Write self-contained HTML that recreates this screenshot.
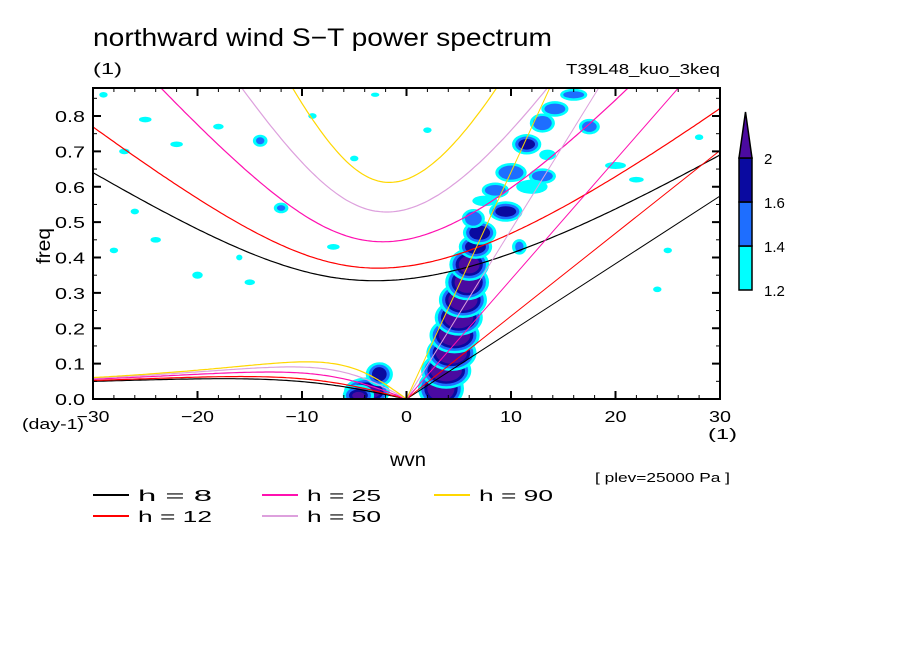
<!DOCTYPE html>
<html><head><meta charset="utf-8"><style>
html,body{margin:0;padding:0;background:#fff;}
svg{display:block;font-family:"Liberation Sans",sans-serif;}
</style></head><body>
<svg id="chart" width="904" height="654" viewBox="0 0 904 654">
<defs><clipPath id="plotclip"><rect x="93" y="88" width="627" height="311"/></clipPath></defs>
<rect x="0" y="0" width="904" height="654" fill="#fff"/>
<text x="93" y="46" font-size="25" textLength="459" lengthAdjust="spacingAndGlyphs" fill="#000">northward wind S−T power spectrum</text>
<text x="93" y="74" font-size="16" textLength="29" lengthAdjust="spacingAndGlyphs">(1)</text>
<text x="566" y="74" font-size="15" textLength="154" lengthAdjust="spacingAndGlyphs">T39L48_kuo_3keq</text>
<g id="blobs" clip-path="url(#plotclip)"></g>
<g id="curves" clip-path="url(#plotclip)"></g>
<g id="axes"></g>
<text x="0" y="0" font-size="19" textLength="36" lengthAdjust="spacingAndGlyphs" transform="translate(50,264) rotate(-90)">freq</text>
<text x="390" y="466" font-size="19" textLength="36" lengthAdjust="spacingAndGlyphs">wvn</text>
<text x="22" y="429" font-size="15" textLength="62" lengthAdjust="spacingAndGlyphs">(day-1)</text>
<text x="708" y="439" font-size="15" textLength="29" lengthAdjust="spacingAndGlyphs">(1)</text>
<text x="595" y="482" font-size="13" textLength="135" lengthAdjust="spacingAndGlyphs">[ plev=25000 Pa ]</text>
<g id="legend"></g>
<g id="colorbar"></g>
</svg>
<script>
// ---- data ----
const depths = [8, 12, 25, 50, 90];
const depthColors = ["#000000", "#ff0000", "#ff10b0", "#dda0dd", "#ffd700"];
const xTicks = [-30, -20, -10, 0, 10, 20, 30];
const yTicks = [0.0, 0.1, 0.2, 0.3, 0.4, 0.5, 0.6, 0.7, 0.8];
const levels = [1.2, 1.4, 1.6, 2];
const levelColors = ["#00ffff", "#1e6eff", "#0a0aa0", "#4b0aa0"];
// spectral blobs: wavenumber, frequency, half-width (wvn), half-height (freq), level index
const blobWvn  = [3.3,3.8,4.3,4.6,5.0,5.4,5.8,6.0,6.6,7.0,6.4,-3.8,-2.6,-4.6,9.5,8.5,10,13,11.5,13,14.2,16,17.5,13.5,10.8,20,22,-25,-18,-27,-22,-14,-12,-26,-28,-20,-7,-24,-16,25,28,-9,-3,24,-29,-15,2,-5,12,7.5];
const blobFreq = [0.03,0.08,0.13,0.18,0.23,0.28,0.33,0.38,0.43,0.47,0.51,0.02,0.07,0.01,0.53,0.59,0.64,0.63,0.72,0.78,0.82,0.86,0.77,0.69,0.43,0.66,0.62,0.79,0.77,0.7,0.72,0.73,0.54,0.53,0.42,0.35,0.43,0.45,0.4,0.42,0.74,0.8,0.86,0.31,0.86,0.33,0.76,0.68,0.6,0.56];
const blobRw   = [1.3,1.5,1.5,1.5,1.4,1.4,1.2,1.0,1.0,1.0,0.8,1.3,0.7,0.6,1.0,1.0,1.2,1.0,0.8,0.9,1.0,1.0,0.7,0.8,0.4,1.0,0.7,0.6,0.5,0.5,0.6,0.4,0.4,0.4,0.4,0.5,0.6,0.5,0.3,0.4,0.4,0.4,0.4,0.4,0.4,0.5,0.4,0.4,1.5,1.2];
const blobRh   = [0.035,0.03,0.03,0.03,0.03,0.03,0.03,0.025,0.02,0.02,0.02,0.02,0.02,0.01,0.015,0.015,0.02,0.015,0.015,0.02,0.015,0.01,0.015,0.015,0.015,0.01,0.008,0.008,0.008,0.008,0.008,0.01,0.008,0.008,0.008,0.01,0.008,0.008,0.008,0.008,0.008,0.008,0.006,0.008,0.008,0.008,0.008,0.008,0.02,0.015];
const blobLevel= [4,4,4,4,4,4,4,4,3,3,2,4,3,4,3,2,2,2,3,2,2,2,2,1,2,1,1,1,1,1,1,2,2,1,1,1,1,1,1,1,1,1,1,1,1,1,1,1,1,1];

// ---- scales ----
const X0=93, X1=720, Y0=399, YTOP=88;
const xMin=-30, xMax=30, yPer=353.75;
const sx = v => X0 + (v - xMin) / (xMax - xMin) * (X1 - X0);
const sy = v => Y0 - v * yPer;
const NS = "http://www.w3.org/2000/svg";
function mk(tag, attrs, parent){ const e=document.createElementNS(NS,tag); for(const k in attrs) e.setAttribute(k,attrs[k]); parent.appendChild(e); return e; }

// ---- blobs ----
const gB = document.getElementById('blobs');
for (let i=0;i<blobWvn.length;i++){
  for (let l=1;l<=blobLevel[i];l++){
    const m = blobLevel[i]-l;
    const e = mk('ellipse',{cx:sx(blobWvn[i]),cy:sy(blobFreq[i]),rx:(blobRw[i]+0.3*m)*10.45,ry:(blobRh[i]+0.007*m)*yPer,fill:levelColors[l-1]},gB);
    
    
  }
}

// ---- dispersion curves ----
const g=9.81, a=6.371e6, Om=7.292e-5, beta=2*Om/a;
const cpd = w => w*86400/(2*Math.PI);
function solve(c,k,w0){
  let w=w0;
  for(let it=0;it<60;it++){
    const f=w*w*w - c*c*(k*k+3*beta/c)*w - beta*c*c*k;
    const d=3*w*w - c*c*(k*k+3*beta/c);
    const nw=w-f/d; if(!isFinite(nw)) break; w=nw;
  }
  return w;
}
const gC=document.getElementById('curves');
depths.forEach((h,hi)=>{
  const c=Math.sqrt(g*h);
  let ig=[], ros=[];
  for(let s=-30;s<=30.001;s+=0.25){
    const k=s/a;
    const w=solve(c,k,Math.sqrt(c*c*k*k+3*beta*c)*1.2);
    ig.push(sx(s).toFixed(1)+','+sy(cpd(w)).toFixed(1));
    if(s<=0){
      const wr=solve(c,k,-beta*k/(k*k+3*beta/c)+1e-12);
      ros.push(sx(s).toFixed(1)+','+sy(cpd(Math.max(wr,0))).toFixed(1));
    }
  }
  const p1=mk('polyline',{points:ig.join(' '),fill:'none',stroke:depthColors[hi],'stroke-width':1.2},gC);
  
  
  const p2=mk('polyline',{points:ros.join(' '),fill:'none',stroke:depthColors[hi],'stroke-width':1.2},gC);
  
  
  const kw=cpd(c*30/a);
  const p3=mk('line',{x1:sx(0),y1:sy(0),x2:sx(30),y2:sy(kw),stroke:depthColors[hi],'stroke-width':1},gC);
  
  
});

// ---- axes ----
const gA=document.getElementById('axes');
const fr=mk('rect',{x:X0,y:YTOP,width:X1-X0,height:Y0-YTOP,fill:'none',stroke:'#000','stroke-width':2},gA);


for(let v=-30;v<=30;v+=2){
  const maj = v%10===0, L = maj?8:4;
  mk('line',{x1:sx(v),y1:Y0,x2:sx(v),y2:Y0-L,stroke:'#000','stroke-width':maj?2:1},gA);
  mk('line',{x1:sx(v),y1:YTOP,x2:sx(v),y2:YTOP+L,stroke:'#000','stroke-width':maj?2:1},gA);
}
for(let i=0;i<=17;i++){
  const v=i*0.05, maj=i%2===0, L=maj?8:4;
  mk('line',{x1:X0,y1:sy(v),x2:X0+L,y2:sy(v),stroke:'#000','stroke-width':maj?2:1},gA);
  mk('line',{x1:X1,y1:sy(v),x2:X1-L,y2:sy(v),stroke:'#000','stroke-width':maj?2:1},gA);
}
xTicks.forEach(v=>{
  const s=(v<0?'−':'')+Math.abs(v);
  const w = s.length*11;
  const t=mk('text',{x:sx(v)-w/2,y:422,'font-size':16,textLength:w,lengthAdjust:'spacingAndGlyphs'},gA);
  t.textContent=s;
  
  
});
yTicks.forEach(v=>{
  const t=mk('text',{x:55,y:sy(v)+6,'font-size':16,textLength:30,lengthAdjust:'spacingAndGlyphs'},gA);
  t.textContent=v.toFixed(1);
  
  
});

// ---- legend ----
const gL=document.getElementById('legend');
const legX=[93,262,434], legY=[495,516];
depths.forEach((h,i)=>{
  const col=Math.floor(i/2), row=i%2;
  const lx=legX[col], ly=legY[row];
  const ln=mk('line',{x1:lx,y1:ly,x2:lx+36,y2:ly,stroke:depthColors[i],'stroke-width':2},gL);
  
  
  const t=mk('text',{x:lx+45,y:ly+6,'font-size':16,textLength:74,lengthAdjust:'spacingAndGlyphs','xml:space':'preserve'},gL);
  t.textContent='h = '+(h<10?' ':'')+h;
  
  
});

// ---- colorbar ----
const gCb=document.getElementById('colorbar');
const cbX=739, cbW=13, cbTop=158, cbH=44;
for(let i=0;i<3;i++){
  const y=cbTop+(2-i)*cbH;
  const r=mk('rect',{x:cbX,y:y,width:cbW,height:cbH,fill:levelColors[i],stroke:'#000','stroke-width':1.5},gCb);
  
  
}
const tri=mk('polygon',{points:`${cbX},${cbTop} ${cbX+cbW},${cbTop} ${cbX+cbW/2},112`,fill:levelColors[3],stroke:'#000','stroke-width':1.5},gCb);


levels.forEach((lv,i)=>{
  const t=mk('text',{x:764,y:cbTop+(3-i)*cbH+6,'font-size':15},gCb);
  t.textContent=String(lv);
  
  
});
</script>
</body></html>
